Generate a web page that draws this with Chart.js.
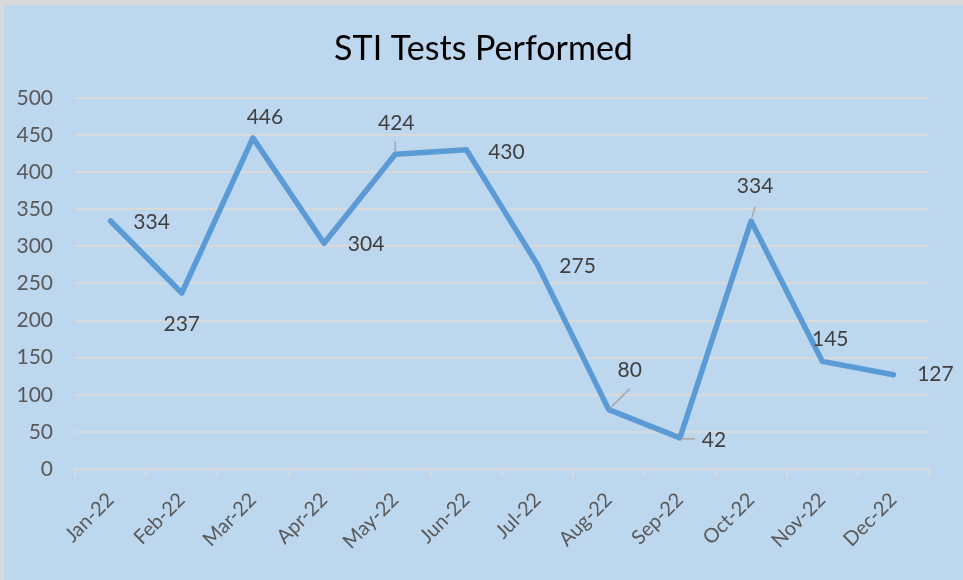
<!DOCTYPE html>
<html>
<head>
<meta charset="utf-8">
<script src="https://cdn.jsdelivr.net/npm/chart.js@4"></script>
<style>
  html, body { margin: 0; padding: 0; background: #d9d9d9; }
  #wrap { position: absolute; left: 4px; top: 5px; width: 959px; height: 575px; background: #bdd7ee; }
</style>
</head>
<body>
<div id="wrap"><canvas id="myChart" width="959" height="575"></canvas></div>
<script>
const months = ["Jan-22", "Feb-22", "Mar-22", "Apr-22", "May-22", "Jun-22",
  "Jul-22", "Aug-22", "Sep-22", "Oct-22", "Nov-22", "Dec-22"];
const tests = [334, 237, 446, 304, 424, 430, 275, 80, 42, 334, 145, 127];

// where each value label sits relative to its point, and the leader line if any
const labelSpots = [
  { dx: 41, dy: 1 }, { dx: 0, dy: 31 }, { dx: 12, dy: -21 }, { dx: 42, dy: 1 },
  { dx: 1, dy: -31, lead: [0, -3, 0, -13] }, { dx: 40, dy: 2 }, { dx: 40, dy: 1 },
  { dx: 21, dy: -39, lead: [1, -1, 21, -21] }, { dx: 34, dy: 2, lead: [1, 1, 15, 1] },
  { dx: 4, dy: -35, lead: [1, -4, 4, -14] }, { dx: 8, dy: -22 }, { dx: 42, dy: 0 }
];

const valueLabels = {
  id: "valueLabels",
  afterDatasetsDraw(chart) {
    const ctx = chart.ctx;
    const pts = chart.getDatasetMeta(0).data;
    ctx.save();
    ctx.font = "21px Lato";
    ctx.fillStyle = "#404040";
    ctx.textAlign = "center";
    ctx.textBaseline = "middle";
    pts.forEach((p, i) => {
      const s = labelSpots[i];
      if (s.lead) {
        ctx.strokeStyle = "#a6a6a6";
        ctx.lineWidth = 1.5;
        ctx.beginPath();
        ctx.moveTo(p.x + s.lead[0], p.y + s.lead[1]);
        ctx.lineTo(p.x + s.lead[2], p.y + s.lead[3]);
        ctx.stroke();
      }
      ctx.fillText(String(tests[i]), p.x + s.dx, p.y + s.dy);
    });
    ctx.restore();
  }
};

const ctx = document.getElementById("myChart");
new Chart(ctx, {
  type: "line",
  plugins: [valueLabels],
  data: {
    labels: months,
    datasets: [{
      data: tests,
      borderColor: "#5b9bd5",
      borderWidth: 5.5,
      borderJoinStyle: "round",
      borderCapStyle: "round",
      pointRadius: 0,
      tension: 0,
    }],
  },
  options: {
    responsive: false,
    animation: false,
    layout: { padding: 0 },
    plugins: {
      legend: { display: false },
      tooltip: { enabled: false },
      title: {
        display: true,
        text: "STI Tests Performed",
        color: "#000000",
        font: { family: "Lato", size: 34, weight: "normal" },
        padding: { top: 24, bottom: 28 },
      },
    },
    scales: {
      x: {
        offset: true,
        afterFit: (s) => { s.height = 111; },
        grid: {
          offset: true,
          display: true,
          drawOnChartArea: false,
          drawTicks: true,
          tickLength: 7,
          color: "#d9d9d9",
          lineWidth: 2,
        },
        border: { display: true, color: "#d9d9d9", width: 2 },
        ticks: {
          color: "#595959",
          font: { family: "Lato", size: 20 },
          maxRotation: 45,
          minRotation: 45,
          padding: 12,
        },
      },
      y: {
        min: 0,
        max: 500,
        afterFit: (s) => { s.width = 71; },
        grid: { color: "#d9d9d9", lineWidth: 2, drawTicks: false },
        border: { display: false },
        ticks: {
          stepSize: 50,
          color: "#595959",
          font: { family: "Lato", size: 21 },
          padding: 22,
        },
      },
      // empty right-hand axis, only to leave room for the last label
      yRight: {
        position: "right",
        min: 0,
        max: 500,
        afterFit: (s) => { s.width = 34; },
        grid: { display: false },
        border: { display: false },
        ticks: { display: false },
      },
    },
  },
});
</script>
</body>
</html>
